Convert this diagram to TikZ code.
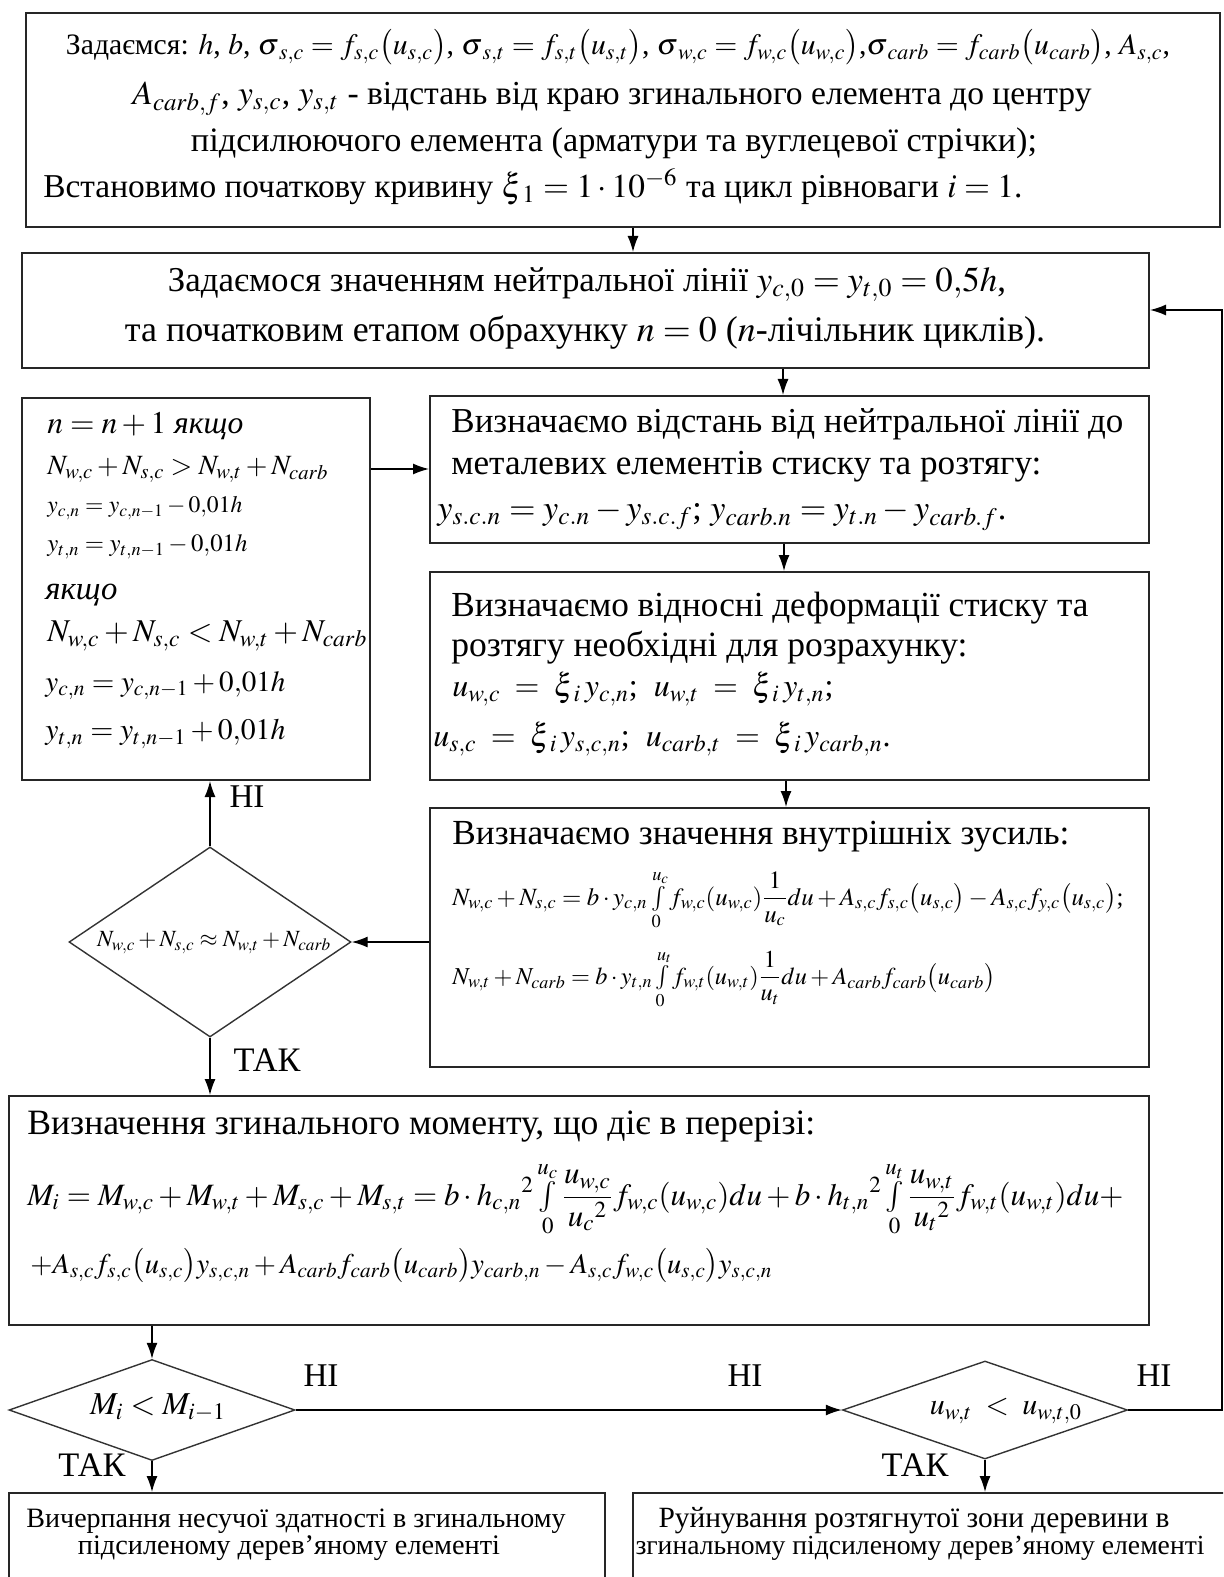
\documentclass[tikz,border=0pt]{standalone}
\usepackage{mathptmx}
\usepackage{fontspec}
\setmainfont{Liberation Serif}
\newfontfamily\tnr{Liberation Serif}
\usepackage{graphicx}
\usetikzlibrary{arrows.meta,shapes.geometric,fit}
\newlength\pxu
\setlength\pxu{0.5pt}
\newcommand\fw[2]{\resizebox{#1\pxu}{!}{#2}}
\newcommand\sint{\mathop{\textstyle\int}\limits}
\begin{document}
\begin{tikzpicture}[x=0.5pt,y=-0.5pt,
  box/.style={draw=black!85, line width=1pt, inner sep=0},
  dia/.style={draw=black!80, line width=0.7pt, shape=diamond, inner sep=0},
  txt/.style={inner sep=0, font=\tnr\fontsize{15}{18}\selectfont},
  arr/.style={draw=black, line width=0.7pt, -{Latex[length=8pt,width=5.5pt]}}]
\clip (0,0) rectangle (1223,1577);
% boxes
\node[box, fit={(26,13)(1220,227)}] (b1) {};
\node[box, fit={(22,253)(1149,368)}] (b2) {};
\node[box, fit={(430,396)(1149,543)}] (b3) {};
\node[box, fit={(22,398)(370,780)}] (lb) {};
\node[box, fit={(430,572)(1149,780)}] (b4) {};
\node[box, fit={(430,808)(1149,1067)}] (b5) {};
\node[box, fit={(9,1096)(1149,1325)}] (b6) {};
\node[box, fit={(9,1493)(605,1610)}] (b7) {};
\node[box, fit={(633,1493)(1240,1610)}] (b8) {};
% diamonds
\node[dia, minimum width=282\pxu, minimum height=190\pxu] (d1) at (210,942) {};
\node[dia, minimum width=286\pxu, minimum height=101\pxu] (d2) at (152,1410) {};
\node[dia, minimum width=285\pxu, minimum height=98\pxu] (d3) at (985,1410) {};
% box 1 text
\node[txt, anchor=mid] (t1a) at (618,50) {\fw{1104}{Задаємся: $h$, $b$, $\sigma{}_{s,c}=f_{s,c}\bigl(u_{s,c}\bigr)$, $\sigma{}_{s,t}=f_{s,t}\bigl(u_{s,t}\bigr)$, $\sigma{}_{w,c}=f_{w,c}\bigl(u_{w,c}\bigr)$,$\sigma{}_{carb}=f_{carb}\bigl(u_{carb}\bigr)$, $A_{s,c}$,}};
\node[txt, anchor=mid] (t1b) at (612,100) {\fw{959}{$A_{carb,f}$, $y_{s,c}$, $y_{s,t}$ - відстань від краю згинального елемента до центру}};
\node[txt, anchor=mid] (t1c) at (614,147) {\fw{846}{підсилюючого елемента (арматури та вуглецевої стрічки);}};
\node[txt, anchor=mid west] (t1d) at (43,193) {\fw{979}{Встановимо початкову кривину $\xi{}_1=1\cdot10^{-6}$ та цикл рівноваги $i=1$.}};
% box 2 text
\node[txt, anchor=mid] (t2a) at (587,287) {\fw{838}{Задаємося значенням нейтральної лінії $y_{c,0}=y_{t,0}=0{,}5h$,}};
\node[txt, anchor=mid] (t2b) at (585,337) {\fw{920}{та початковим етапом обрахунку $n=0$ ($n$-лічільник циклів).}};
% box 3 text
\node[txt, anchor=mid west] (t3a) at (451,428) {\fw{672}{Визначаємо відстань від нейтральної лінії до}};
\node[txt, anchor=mid west] (t3b) at (451,470) {\fw{590}{металевих елементів стиску та розтягу:}};
\node[txt, anchor=mid west] (t3c) at (437,515) {\fw{569}{$y_{s.c.n}=y_{c.n}-y_{s.c.f}$; $y_{carb.n}=y_{t.n}-y_{carb.f}$.}};
% left box text
\node[txt, anchor=mid west] (l1) at (47,429) {\fw{196}{$n=n+1$ \textit{якщо}}};
\node[txt, anchor=mid west] (l2) at (47,470) {\fw{281}{$N_{w,c}+N_{s,c}>N_{w,t}+N_{carb}$}};
\node[txt, anchor=mid west] (l3) at (47,508) {\fw{195}{$y_{c,n}=y_{c,n-1}-0{,}01h$}};
\node[txt, anchor=mid west] (l4) at (47,547) {\fw{200}{$y_{t,n}=y_{t,n-1}-0{,}01h$}};
\node[txt, anchor=mid west] (l5) at (45,595) {\fw{72}{\textit{якщо}}};
\node[txt, anchor=mid west] (l6) at (47,637) {\fw{320}{$N_{w,c}+N_{s,c}<N_{w,t}+N_{carb}$}};
\node[txt, anchor=mid west] (l7) at (45,687) {\fw{240}{$y_{c,n}=y_{c,n-1}+0{,}01h$}};
\node[txt, anchor=mid west] (l8) at (45,735) {\fw{240}{$y_{t,n}=y_{t,n-1}+0{,}01h$}};
% box 4 text
\node[txt, anchor=mid west] (t4a) at (451,612) {\fw{637}{Визначаємо відносні деформації стиску та}};
\node[txt, anchor=mid west] (t4b) at (451,652) {\fw{516}{розтягу необхідні для розрахунку:}};
\node[txt, anchor=mid west, font=\tnr\fontsize{16}{18}\selectfont] (t4c) at (452,692) {$u_{w,c}\;=\;\xi{}_{i}\,y_{c,n}$;\ \ $u_{w,t}\;=\;\xi{}_{i}\,y_{t,n}$;};
\node[txt, anchor=mid west, font=\tnr\fontsize{16}{18}\selectfont] (t4d) at (433,742) {$u_{s,c}\;=\;\xi{}_{i}\,y_{s,c,n}$;\ \ $u_{carb,t}\;=\;\xi{}_{i}\,y_{carb,n}$.};
% box 5 text
\node[txt, anchor=mid west] (t5a) at (452,840) {\fw{617}{Визначаємо значення внутрішніх зусиль:}};
\node[txt, anchor=base west] (t5b) at (452,905) {\fw{671}{$N_{w,c}+N_{s,c}=b\cdot y_{c,n}\int\limits_0^{u_c} f_{w,c}(u_{w,c}){\displaystyle\frac{1}{u_c}}du+A_{s,c}f_{s,c}\bigl(u_{s,c}\bigr)-A_{s,c}f_{y,c}\bigl(u_{s,c}\bigr)$;}};
\node[txt, anchor=base west] (t5c) at (452,984) {\fw{543}{$N_{w,t}+N_{carb}=b\cdot y_{t,n}\int\limits_0^{u_t} f_{w,t}(u_{w,t}){\displaystyle\frac{1}{u_t}}du+A_{carb}f_{carb}\bigl(u_{carb}\bigr)$}};
% box 6 text
\node[txt, anchor=mid west] (t6a) at (27,1130) {\fw{788}{Визначення згинального моменту, що діє в перерізі:}};
\node[txt, anchor=base west] (t6b) at (27,1205) {\fw{1096}{$\displaystyle M_i=M_{w,c}+M_{w,t}+M_{s,c}+M_{s,t}=b\cdot h_{c,n}{}^2\sint_0^{u_c}\frac{u_{w,c}}{u_c{}^{2}}f_{w,c}(u_{w,c})du+b\cdot h_{t,n}{}^2\sint_0^{u_t}\frac{u_{w,t}}{u_t{}^{2}}f_{w,t}(u_{w,t})du+$}};
\node[txt, anchor=base west] (t6c) at (30,1273) {\fw{742}{$+A_{s,c}f_{s,c}\bigl(u_{s,c}\bigr)y_{s,c,n}+A_{carb}f_{carb}\bigl(u_{carb}\bigr)y_{carb,n}-A_{s,c}f_{w,c}\bigl(u_{s,c}\bigr)y_{s,c,n}$}};
% diamond texts
\node[txt, anchor=mid] (d1t) at (214,942) {\fw{234}{$N_{w,c}+N_{s,c}\approx N_{w,t}+N_{carb}$}};
\node[txt, anchor=mid] (d2t) at (158,1410) {\fw{136}{$M_i<M_{i-1}$}};
\node[txt, anchor=mid, font=\tnr\fontsize{15}{18}\selectfont] (d3t) at (1006,1410) {$u_{w,t}\;<\;u_{w,t,0}$};
% labels
\node[txt, anchor=mid] (n1) at (247,803) {\fw{35}{НІ}};
\node[txt, anchor=mid] (y1) at (267,1067) {\fw{67}{ТАК}};
\node[txt, anchor=mid] (n2) at (321,1382) {\fw{35}{НІ}};
\node[txt, anchor=mid] (n3) at (745,1382) {\fw{35}{НІ}};
\node[txt, anchor=mid] (n4) at (1154,1382) {\fw{35}{НІ}};
\node[txt, anchor=mid] (y2) at (92,1472) {\fw{67}{ТАК}};
\node[txt, anchor=mid] (y3) at (915,1472) {\fw{67}{ТАК}};
% bottom boxes text
\node[txt, anchor=mid] (t7a) at (296,1523) {\fw{539}{Вичерпання несучої здатності в згинальному}};
\node[txt, anchor=mid] (t7b) at (289,1550) {\fw{422}{підсиленому дерев’яному елементі}};
\node[txt, anchor=mid] (t8a) at (914,1523) {\fw{511}{Руйнування розтягнутої зони деревини в}};
\node[txt, anchor=mid] (t8b) at (920,1550) {\fw{569}{згинальному підсиленому дерев’яному елементі}};
% connectors
\coordinate (a1) at (633,0);
\coordinate (a2) at (783,0);
\coordinate (a3) at (0,469);
\coordinate (a4) at (784,0);
\coordinate (a5) at (786,0);
\coordinate (rc) at (1222,310);
\draw[arr] (b1.south -| a1) -- (b2.north -| a1);
\draw[arr] (b2.south -| a2) -- (b3.north -| a2);
\draw[arr] (lb.east |- a3) -- (b3.west |- a3);
\draw[arr] (b3.south -| a4) -- (b4.north -| a4);
\draw[arr] (b4.south -| a5) -- (b5.north -| a5);
\draw[arr] (b5.west |- d1) -- (d1.east);
\draw[arr] (d1.north) -- (lb.south -| d1.north);
\draw[arr] (d1.south) -- (b6.north -| d1.south);
\draw[arr] (b6.south -| d2.north) -- (d2.north);
\draw[arr] (d2.east) -- (d3.west);
\draw[arr] (d3.east) -| (rc) -- (b2.east |- rc);
\draw[arr] (d2.south) -- (b7.north -| d2.south);
\draw[arr] (d3.south) -- (b8.north -| d3.south);
\end{tikzpicture}
\end{document}
